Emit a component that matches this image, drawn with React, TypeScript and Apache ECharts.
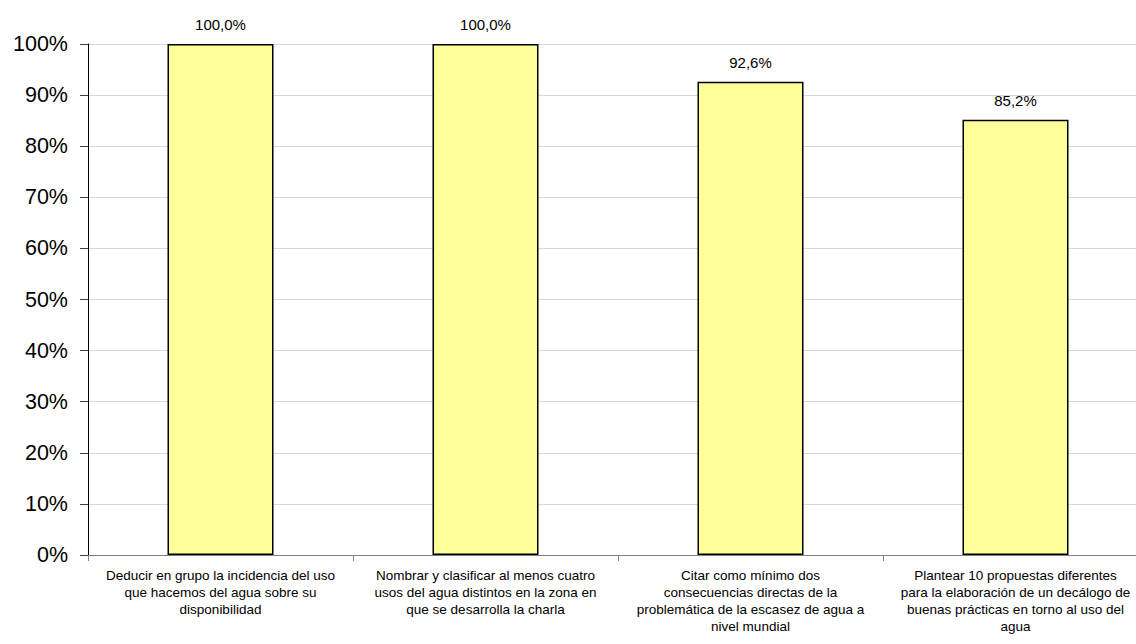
import React, { useEffect, useRef } from "react";
import * as echarts from "echarts";

const categories = [
  "Deducir en grupo la incidencia del uso\nque hacemos del agua sobre su\ndisponibilidad",
  "Nombrar y clasificar al menos cuatro\nusos del agua distintos en la zona en\nque se desarrolla la charla",
  "Citar como mínimo dos\nconsecuencias directas de la\nproblemática de la escasez de agua a\nnivel mundial",
  "Plantear 10 propuestas diferentes\npara la elaboración de un decálogo de\nbuenas prácticas en torno al uso del\nagua",
];
const values = [100.0, 100.0, 92.6, 85.2];
const yTicks = [0, 10, 20, 30, 40, 50, 60, 70, 80, 90, 100];

export default function App() {
  const ref = useRef<HTMLDivElement>(null);
  useEffect(() => {
    if (!ref.current) return;
    const chart = echarts.init(ref.current, undefined, { renderer: "svg" });
    chart.setOption({
      animation: false,
      backgroundColor: "#ffffff",
      textStyle: { fontFamily: "Liberation Sans, Arial, sans-serif" },
      grid: { left: 88, right: 12, top: 44, bottom: 89, containLabel: false },
      xAxis: {
        type: "category",
        data: categories,
        axisLine: { lineStyle: { color: "#808080", width: 1 } },
        axisTick: { show: true, length: 6, lineStyle: { color: "#808080" } },
        axisLabel: {
          interval: 0,
          color: "#000",
          fontSize: 13.5,
          lineHeight: 17,
          margin: 12,
          align: "center",
        },
      },
      yAxis: {
        type: "value",
        min: yTicks[0],
        max: yTicks[yTicks.length - 1],
        interval: 10,
        axisLine: { show: true, lineStyle: { color: "#000", width: 1 } },
        axisTick: { show: true, length: 8, lineStyle: { color: "#404040" } },
        splitLine: { show: true, lineStyle: { color: "#d9d9d9", width: 1 } },
        axisLabel: {
          color: "#000",
          fontSize: 21.5,
          margin: 20,
          formatter: (v: number) => `${v}%`,
        },
      },
      series: [
        {
          type: "bar",
          data: values,
          barCategoryGap: "60%",
          itemStyle: { color: "#FFFF99", borderColor: "#000", borderWidth: 1.5 },
          label: {
            show: true,
            position: "top",
            distance: 12,
            color: "#000",
            fontSize: 15,
            formatter: (p: any) => `${p.value.toFixed(1).replace(".", ",")}%`,
          },
        },
      ],
    });
    return () => chart.dispose();
  }, []);
  return (
    <div style={{ position: "absolute", left: 0, top: 0, width: 1136, height: 644, overflow: "hidden", background: "#fff" }}>
      <div ref={ref} style={{ width: 1160, height: 644 }} />
    </div>
  );
}
